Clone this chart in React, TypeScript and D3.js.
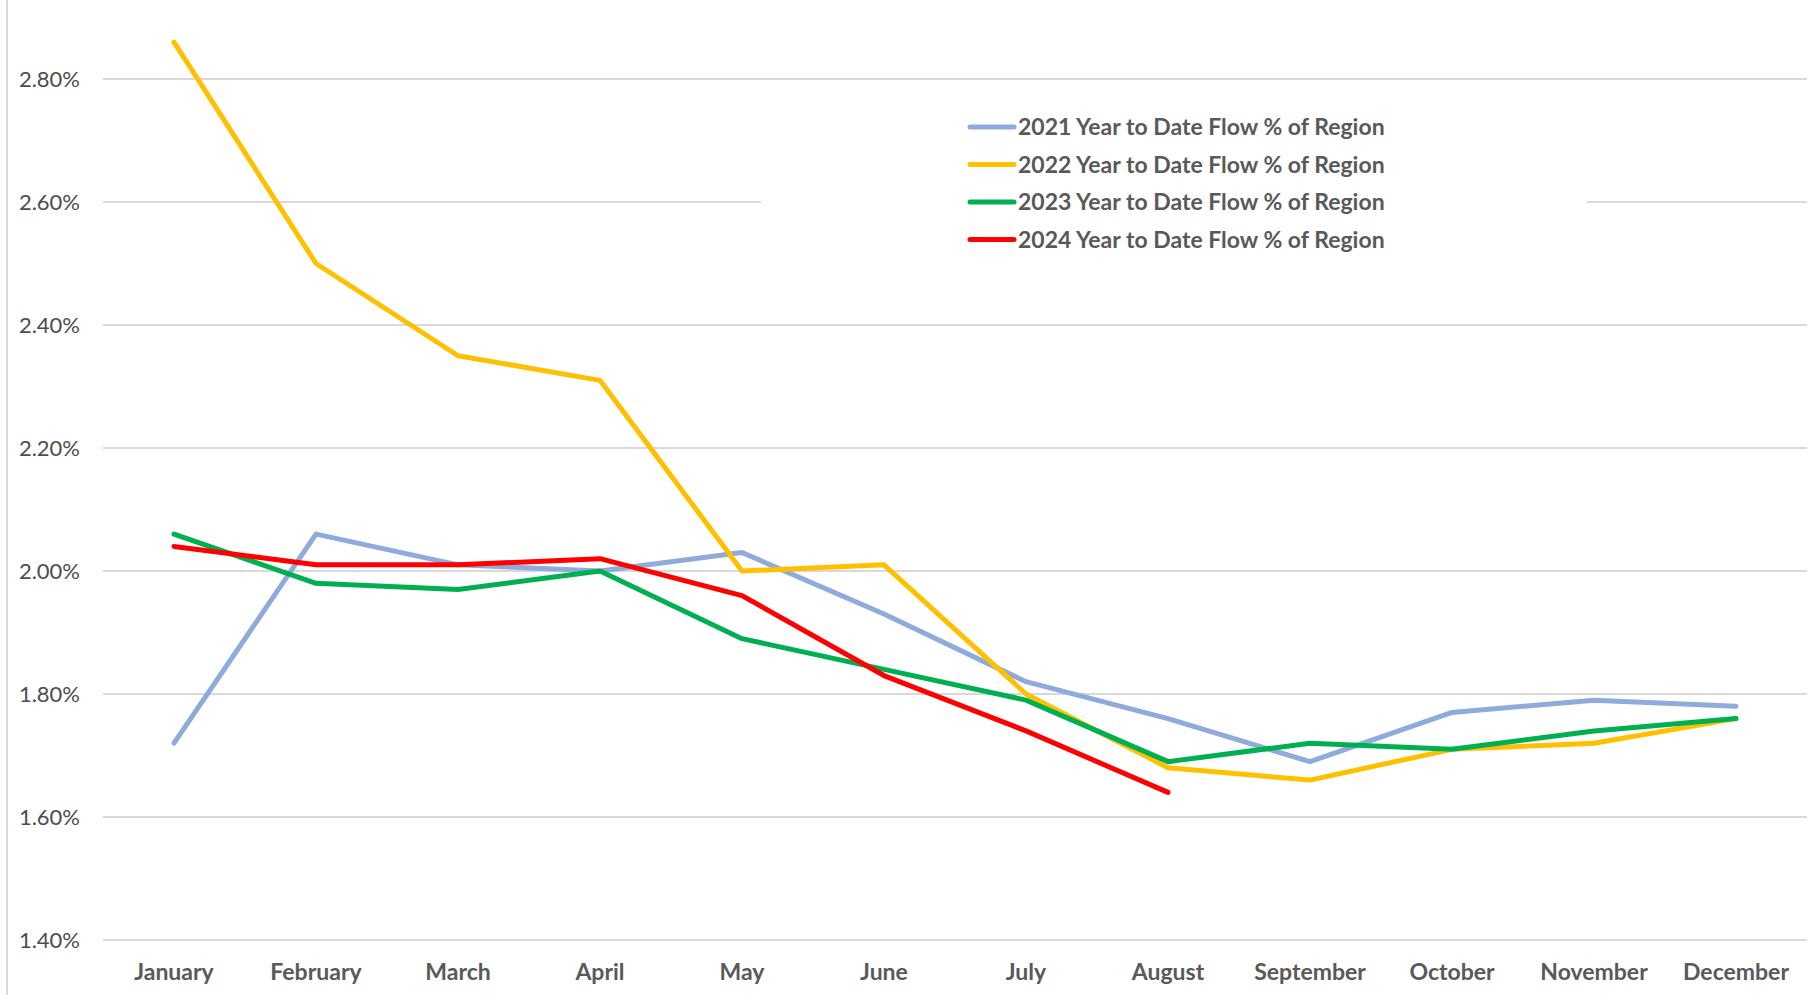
import React, { useRef, useEffect } from "react";
import * as d3 from "d3";

const months = [
  "January", "February", "March", "April", "May", "June",
  "July", "August", "September", "October", "November", "December",
];

const yTicks = [1.4, 1.6, 1.8, 2.0, 2.2, 2.4, 2.6, 2.8];

const flow2021 = [1.72, 2.06, 2.01, 2.0, 2.03, 1.93, 1.82, 1.76, 1.69, 1.77, 1.79, 1.78];
const flow2022 = [2.86, 2.5, 2.35, 2.31, 2.0, 2.01, 1.8, 1.68, 1.66, 1.71, 1.72, 1.76];
const flow2023 = [2.06, 1.98, 1.97, 2.0, 1.89, 1.84, 1.79, 1.69, 1.72, 1.71, 1.74, 1.76];
const flow2024 = [2.04, 2.01, 2.01, 2.02, 1.96, 1.83, 1.74, 1.64];

const seriesNames = [
  "2021 Year to Date Flow % of Region",
  "2022 Year to Date Flow % of Region",
  "2023 Year to Date Flow % of Region",
  "2024 Year to Date Flow % of Region",
];
const seriesColors = ["#8FAADC", "#FFC000", "#00B050", "#FF0000"];

const App = () => {
  const svgRef = useRef<SVGSVGElement>(null);

  useEffect(() => {
    const svg = d3.select(svgRef.current);
    svg.selectAll("*").remove();

    const width = 1820;
    const height = 995;
    const left = 103;
    const right = 1807;
    const font = "Lato, 'Open Sans', sans-serif";

    const x = d3.scaleBand().domain(months).range([left, right]);
    const y = d3.scaleLinear().domain([1.4, 2.8]).range([940, 79]);

    svg.attr("width", width).attr("height", height);

    svg.append("rect").attr("width", width).attr("height", height).attr("fill", "#fff");

    // left border
    svg
      .append("line")
      .attr("x1", 7).attr("x2", 7)
      .attr("y1", 0).attr("y2", height)
      .attr("stroke", "#d9d9d9")
      .attr("stroke-width", 2);

    // gridlines
    svg
      .append("g")
      .selectAll("line")
      .data(yTicks)
      .enter()
      .append("line")
      .attr("x1", left)
      .attr("x2", right)
      .attr("y1", (d) => y(d))
      .attr("y2", (d) => y(d))
      .attr("stroke", "#d9d9d9")
      .attr("stroke-width", 2);

    // y labels
    svg
      .append("g")
      .selectAll("text")
      .data(yTicks)
      .enter()
      .append("text")
      .attr("x", 80)
      .attr("y", (d) => y(d))
      .attr("dy", "0.35em")
      .attr("text-anchor", "end")
      .attr("font-family", font)
      .attr("font-size", 22)
      .attr("fill", "#4d4d4d")
      .text((d) => d.toFixed(2) + "%");

    // x labels
    svg
      .append("g")
      .selectAll("text")
      .data(months)
      .enter()
      .append("text")
      .attr("x", (d) => x(d)! + x.bandwidth() / 2)
      .attr("y", 972)
      .attr("dy", "0.35em")
      .attr("text-anchor", "middle")
      .attr("font-family", font)
      .attr("font-weight", "bold")
      .attr("font-size", 23)
      .attr("fill", "#595959")
      .text((d) => d);

    // legend box (covers gridline)
    svg
      .append("rect")
      .attr("x", 761)
      .attr("y", 100)
      .attr("width", 826)
      .attr("height", 165)
      .attr("fill", "#fff");

    const line = d3
      .line<number>()
      .x((_, i) => x(months[i])! + x.bandwidth() / 2)
      .y((d) => y(d));

    const allSeries = [flow2021, flow2022, flow2023, flow2024];
    allSeries.forEach((s, i) => {
      svg
        .append("path")
        .attr("d", line(s))
        .attr("fill", "none")
        .attr("stroke", seriesColors[i])
        .attr("stroke-width", 5)
        .attr("stroke-linejoin", "round")
        .attr("stroke-linecap", "round");
    });

    const legend = svg.append("g");
    seriesNames.forEach((name, i) => {
      const ly = 127 + i * 37.5;
      legend
        .append("line")
        .attr("x1", 970).attr("x2", 1014)
        .attr("y1", ly).attr("y2", ly)
        .attr("stroke", seriesColors[i])
        .attr("stroke-width", 5)
        .attr("stroke-linecap", "round");
      legend
        .append("text")
        .attr("x", 1018)
        .attr("y", ly)
        .attr("dy", "0.35em")
        .attr("font-family", font)
        .attr("font-weight", "bold")
        .attr("font-size", 23)
        .attr("fill", "#595959")
        .text(name);
    });
  }, []);

  return (
    <div style={{ position: "absolute", left: 0, top: 0 }}>
      <svg ref={svgRef}></svg>
    </div>
  );
};

export default App;
